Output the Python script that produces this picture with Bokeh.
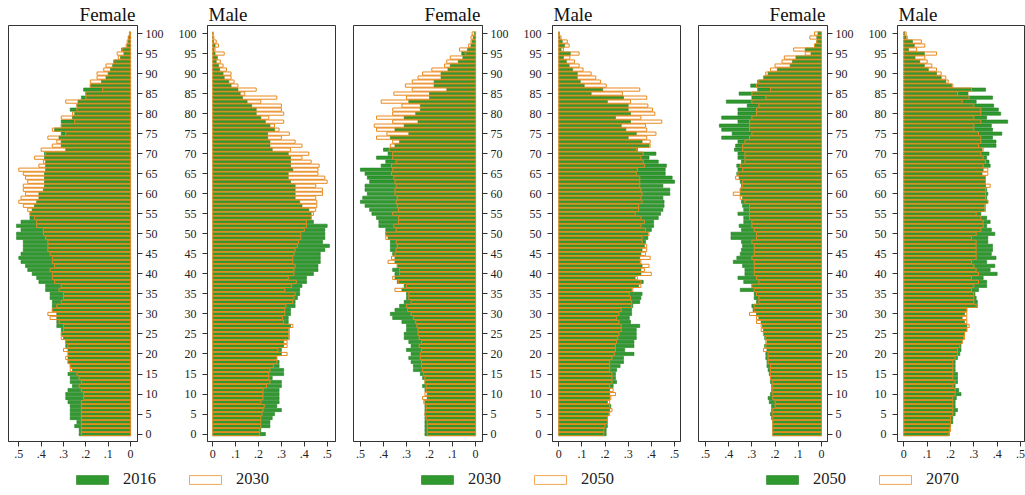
from bokeh.plotting import figure
from bokeh.models import (Range1d, FixedTicker, CustomJSTickFormatter, Legend,
                          LegendItem, ColumnDataSource)
from bokeh.layouts import row, column
from bokeh.embed import file_html
from bokeh.resources import INLINE

# ages listed from 100 down to 0
ages = list(range(100, -1, -1))

female_2016 = [0.005, 0.01, 0.01, 0.015, 0.04, 0.03, 0.045, 0.075, 0.08, 0.09,
               0.10, 0.11, 0.13, 0.18, 0.21, 0.20, 0.22, 0.235, 0.24, 0.27,
               0.25, 0.26, 0.31, 0.31, 0.34, 0.31, 0.32, 0.31, 0.31, 0.29,
               0.385, 0.385, 0.38, 0.38, 0.38, 0.385, 0.385, 0.385, 0.385, 0.39,
               0.41, 0.41, 0.42, 0.43, 0.44, 0.45, 0.45, 0.49, 0.51, 0.49,
               0.51, 0.51, 0.48, 0.48, 0.48, 0.49, 0.50, 0.49, 0.47, 0.46,
               0.44, 0.42, 0.41, 0.38, 0.38, 0.36, 0.36, 0.35, 0.35, 0.35,
               0.33, 0.33, 0.33, 0.33, 0.31, 0.31, 0.30, 0.29, 0.29, 0.28,
               0.28, 0.28, 0.28, 0.27, 0.26, 0.28, 0.27, 0.27, 0.26, 0.28,
               0.29, 0.29, 0.28, 0.27, 0.27, 0.27, 0.27, 0.24, 0.25, 0.23,
               0.23]
female_2030 = [0.005, 0.01, 0.015, 0.02, 0.035, 0.06, 0.055, 0.075, 0.11, 0.12,
               0.15, 0.15, 0.18, 0.18, 0.125, 0.20, 0.20, 0.29, 0.24, 0.24,
               0.26, 0.31, 0.25, 0.31, 0.35, 0.29, 0.37, 0.33, 0.35, 0.40,
               0.38, 0.43, 0.39, 0.41, 0.50, 0.48, 0.47, 0.46, 0.48, 0.48,
               0.47, 0.49, 0.50, 0.48, 0.46, 0.45, 0.43, 0.42, 0.42, 0.39,
               0.39, 0.38, 0.37, 0.37, 0.37, 0.36, 0.35, 0.35, 0.34, 0.36,
               0.35, 0.35, 0.34, 0.31, 0.32, 0.30, 0.30, 0.31, 0.33, 0.35,
               0.37, 0.36, 0.32, 0.30, 0.30, 0.31, 0.31, 0.29, 0.28, 0.30,
               0.28, 0.29, 0.28, 0.27, 0.27, 0.24, 0.23, 0.22, 0.23, 0.22,
               0.21, 0.21, 0.22, 0.22, 0.22, 0.22, 0.22, 0.22, 0.22, 0.22,
               0.22]
female_2050 = [0.015, 0.02, 0.02, 0.03, 0.07, 0.045, 0.11, 0.125, 0.135, 0.19,
               0.23, 0.25, 0.275, 0.305, 0.275, 0.355, 0.30, 0.41, 0.32, 0.36,
               0.36, 0.43, 0.36, 0.44, 0.43, 0.385, 0.43, 0.36, 0.37, 0.375,
               0.36, 0.36, 0.345, 0.365, 0.36, 0.365, 0.355, 0.35, 0.345, 0.35,
               0.35, 0.34, 0.345, 0.34, 0.335, 0.36, 0.335, 0.335, 0.355, 0.345,
               0.39, 0.39, 0.345, 0.34, 0.345, 0.35, 0.365, 0.38, 0.34, 0.33,
               0.33, 0.36, 0.335, 0.30, 0.35, 0.29, 0.29, 0.28, 0.30, 0.295,
               0.28, 0.27, 0.26, 0.255, 0.25, 0.25, 0.245, 0.235, 0.245, 0.235,
               0.24, 0.24, 0.235, 0.235, 0.23, 0.225, 0.22, 0.22, 0.215, 0.215,
               0.22, 0.23, 0.225, 0.215, 0.215, 0.22, 0.215, 0.21, 0.21, 0.21,
               0.21]
female_2070 = [0.03, 0.05, 0.02, 0.03, 0.12, 0.07, 0.16, 0.17, 0.20, 0.22,
               0.24, 0.25, 0.27, 0.28, 0.22, 0.30, 0.24, 0.30, 0.27, 0.28,
               0.28, 0.30, 0.31, 0.31, 0.31, 0.30, 0.31, 0.33, 0.34, 0.34,
               0.33, 0.33, 0.33, 0.35, 0.34, 0.36, 0.37, 0.34, 0.34, 0.35,
               0.38, 0.35, 0.33, 0.31, 0.31, 0.31, 0.31, 0.30, 0.30, 0.29,
               0.28, 0.28, 0.30, 0.29, 0.29, 0.29, 0.30, 0.29, 0.29, 0.29,
               0.29, 0.28, 0.27, 0.30, 0.29, 0.28, 0.27, 0.27, 0.29, 0.29,
               0.31, 0.28, 0.28, 0.26, 0.26, 0.25, 0.24, 0.24, 0.24, 0.25,
               0.23, 0.23, 0.23, 0.22, 0.22, 0.22, 0.22, 0.21, 0.21, 0.21,
               0.21, 0.21, 0.20, 0.20, 0.21, 0.21, 0.21, 0.21, 0.21, 0.21,
               0.21]
male_2016 = [0.0, 0.0, 0.003, 0.01, 0.005, 0.01, 0.02, 0.015, 0.025, 0.03,
             0.045, 0.05, 0.07, 0.08, 0.11, 0.12, 0.13, 0.15, 0.17, 0.19,
             0.19, 0.21, 0.23, 0.25, 0.27, 0.24, 0.24, 0.25, 0.25, 0.26,
             0.33, 0.34, 0.34, 0.34, 0.35, 0.33, 0.33, 0.34, 0.36, 0.36,
             0.36, 0.36, 0.38, 0.39, 0.42, 0.43, 0.43, 0.44, 0.50, 0.49,
             0.49, 0.49, 0.48, 0.51, 0.49, 0.47, 0.47, 0.47, 0.46, 0.46,
             0.44, 0.41, 0.41, 0.39, 0.38, 0.38, 0.37, 0.36, 0.36, 0.34,
             0.34, 0.33, 0.33, 0.34, 0.33, 0.33, 0.33, 0.31, 0.31, 0.30,
             0.30, 0.28, 0.29, 0.29, 0.31, 0.31, 0.26, 0.30, 0.30, 0.29,
             0.29, 0.29, 0.29, 0.28, 0.30, 0.27, 0.26, 0.25, 0.25, 0.21,
             0.23]
male_2030 = [0.002, 0.005, 0.015, 0.025, 0.01, 0.05, 0.02, 0.033, 0.045, 0.06,
             0.08, 0.08, 0.093, 0.11, 0.19, 0.14, 0.28, 0.21, 0.30, 0.30,
             0.31, 0.245, 0.31, 0.27, 0.29, 0.335, 0.30, 0.36, 0.39, 0.34,
             0.42, 0.39, 0.43, 0.465, 0.46, 0.46, 0.49, 0.50, 0.45, 0.48,
             0.48, 0.45, 0.455, 0.455, 0.45, 0.44, 0.43, 0.41, 0.41, 0.40,
             0.385, 0.385, 0.375, 0.37, 0.36, 0.355, 0.35, 0.35, 0.36, 0.355,
             0.355, 0.33, 0.365, 0.345, 0.315, 0.36, 0.355, 0.35, 0.32, 0.315,
             0.315, 0.305, 0.31, 0.35, 0.335, 0.335, 0.335, 0.325, 0.325, 0.285,
             0.325, 0.28, 0.28, 0.265, 0.25, 0.245, 0.245, 0.25, 0.235, 0.22,
             0.22, 0.22, 0.21, 0.225, 0.22, 0.215, 0.21, 0.21, 0.21, 0.205,
             0.205]
male_2050 = [0.003, 0.01, 0.037, 0.045, 0.02, 0.088, 0.048, 0.068, 0.088, 0.105,
             0.14, 0.16, 0.18, 0.205, 0.35, 0.275, 0.38, 0.31, 0.385, 0.405,
             0.415, 0.355, 0.445, 0.375, 0.38, 0.42, 0.38, 0.395, 0.395, 0.335,
             0.365, 0.355, 0.365, 0.37, 0.34, 0.335, 0.35, 0.35, 0.35, 0.355,
             0.36, 0.355, 0.36, 0.345, 0.345, 0.33, 0.355, 0.37, 0.355, 0.375,
             0.39, 0.36, 0.36, 0.38, 0.38, 0.375, 0.395, 0.355, 0.39, 0.37,
             0.40, 0.34, 0.355, 0.355, 0.32, 0.305, 0.31, 0.315, 0.315, 0.27,
             0.26, 0.25, 0.26, 0.27, 0.27, 0.26, 0.255, 0.25, 0.245, 0.245,
             0.24, 0.23, 0.22, 0.22, 0.22, 0.23, 0.23, 0.23, 0.22, 0.235,
             0.245, 0.225, 0.22, 0.22, 0.23, 0.22, 0.21, 0.21, 0.20, 0.195,
             0.195]
male_2070 = [0.01, 0.015, 0.075, 0.09, 0.055, 0.14, 0.09, 0.10, 0.12, 0.14,
             0.16, 0.18, 0.19, 0.21, 0.29, 0.23, 0.28, 0.25, 0.30, 0.33,
             0.33, 0.30, 0.33, 0.30, 0.30, 0.32, 0.33, 0.33, 0.32, 0.34,
             0.33, 0.34, 0.35, 0.34, 0.36, 0.36, 0.35, 0.35, 0.37, 0.35,
             0.35, 0.35, 0.36, 0.35, 0.35, 0.31, 0.33, 0.34, 0.34, 0.33,
             0.31, 0.29, 0.31, 0.31, 0.31, 0.31, 0.31, 0.29, 0.30, 0.31,
             0.32, 0.29, 0.32, 0.30, 0.29, 0.30, 0.30, 0.30, 0.31, 0.27,
             0.27, 0.27, 0.27, 0.28, 0.27, 0.26, 0.26, 0.25, 0.24, 0.23,
             0.23, 0.22, 0.21, 0.21, 0.21, 0.21, 0.21, 0.22, 0.21, 0.22,
             0.22, 0.21, 0.21, 0.21, 0.21, 0.21, 0.20, 0.20, 0.20, 0.20,
             0.19]

x_ticks = [0, 0.1, 0.2, 0.3, 0.4, 0.5]
y_ticks = list(range(0, 101, 5))

GREEN = "#2f992f"
GREEN_LINE = "#238023"
ORANGE = "#e8891e"
ORANGE_LEG = "#f0a855"
FONT = "Liberation Serif"
TXT = "#222222"

fmt = CustomJSTickFormatter(code="""
if (Math.abs(tick) < 1e-9) { return "0"; }
return tick.toFixed(1).replace(/^0/, "");
""")


def panel(sex, base, proj, xr, width, bl, br):
    female = sex == "Female"
    p = figure(width=width, height=465, x_range=Range1d(*xr),
               y_range=Range1d(-1.85, 102), output_backend="svg",
               toolbar_location=None, y_axis_location="right" if female else "left",
               min_border_left=bl, min_border_right=br, min_border_top=25,
               min_border_bottom=24, title=sex)
    src = ColumnDataSource(dict(age=ages, base=base, proj=proj))
    p.hbar(y="age", left=0, right="base", height=0.8, source=src,
           fill_color=GREEN, line_color=GREEN_LINE, line_width=0.6)
    p.hbar(y="age", left=0, right="proj", height=0.8, source=src,
           fill_color=None, line_color=ORANGE, line_width=1)
    p.title.text_font = FONT
    p.title.text_font_size = "19px"
    p.title.text_font_style = "normal"
    p.title.text_color = "#111111"
    p.title.align = "right" if female else "left"
    p.title.offset = 2 if female else 1
    p.title.standoff = 1
    p.xgrid.visible = False
    p.ygrid.visible = False
    p.outline_line_color = "#333333"
    p.background_fill_color = "white"
    p.border_fill_color = "white"
    for ax in (p.xaxis[0], p.yaxis[0]):
        ax.axis_line_color = "#333333"
        ax.major_tick_line_color = "#333333"
        ax.major_tick_out = 5
        ax.major_tick_in = 0
        ax.minor_tick_line_color = None
        ax.major_label_text_font = FONT
        ax.major_label_text_font_size = "12px"
        ax.major_label_text_color = TXT
    p.xaxis.ticker = FixedTicker(ticks=x_ticks)
    p.xaxis.formatter = fmt
    p.xaxis.major_label_standoff = 3
    p.yaxis.ticker = FixedTicker(ticks=y_ticks)
    p.yaxis.major_label_standoff = 3 if female else 6
    return p


def legend_strip(width, base, proj, base_lbl, proj_lbl):
    # the same series feed the legend keys; both ranges of this strip lie
    # far from the data, so only the legend keys are seen
    lp = figure(width=width, height=30, x_range=Range1d(-51, -50),
                y_range=Range1d(1000, 1001),
                output_backend="svg", toolbar_location=None,
                x_axis_location=None, y_axis_location=None,
                min_border_left=0, min_border_right=0, min_border_top=0,
                min_border_bottom=0)
    lp.xgrid.visible = False
    lp.ygrid.visible = False
    lp.outline_line_color = None
    lp.background_fill_color = "white"
    lp.border_fill_color = "white"
    src = ColumnDataSource(dict(age=ages, base=base, proj=proj))
    rg = lp.hbar(y="age", left=0, right="base", height=0.8, source=src,
                 fill_color=GREEN, line_color=GREEN_LINE, line_width=0.6)
    ro = lp.hbar(y="age", left=0, right="proj", height=0.8, source=src,
                 fill_color=None, line_color=ORANGE_LEG, line_width=1)
    for lbl, rend, lx in ((base_lbl, rg, 72), (proj_lbl, ro, 185)):
        leg = Legend(items=[LegendItem(label=lbl, renderers=[rend])],
                     location=(lx, 6), orientation="horizontal", padding=0,
                     margin=0, border_line_alpha=0, background_fill_alpha=0,
                     glyph_width=40, glyph_height=11, label_standoff=11,
                     label_text_font=FONT, label_text_font_size="16.5px",
                     label_text_color=TXT)
        lp.add_layout(leg)
    return lp


f1 = panel("Female", female_2016, female_2030, (0.546, -0.031), 172, 8, 35)
m1 = panel("Male", male_2016, male_2030, (-0.023, 0.5365), 173, 35, 10)
f2 = panel("Female", female_2030, female_2050, (0.530, -0.030), 172, 8, 35)
m2 = panel("Male", male_2030, male_2050, (-0.027, 0.526), 173, 35, 10)
f3 = panel("Female", female_2050, female_2070, (0.530, -0.026), 172, 8, 35)
m3 = panel("Male", male_2050, male_2070, (-0.027, 0.517), 163, 35, 1)

l1 = legend_strip(345, female_2016, female_2030, "2016", "2030")
l2 = legend_strip(345, female_2030, female_2050, "2030", "2050")
l3 = legend_strip(335, female_2050, female_2070, "2050", "2070")

layout = column(row(f1, m1, f2, m2, f3, m3, spacing=0),
                row(l1, l2, l3, spacing=0), spacing=0)
open("out.html", "w").write(file_html(layout, INLINE))
